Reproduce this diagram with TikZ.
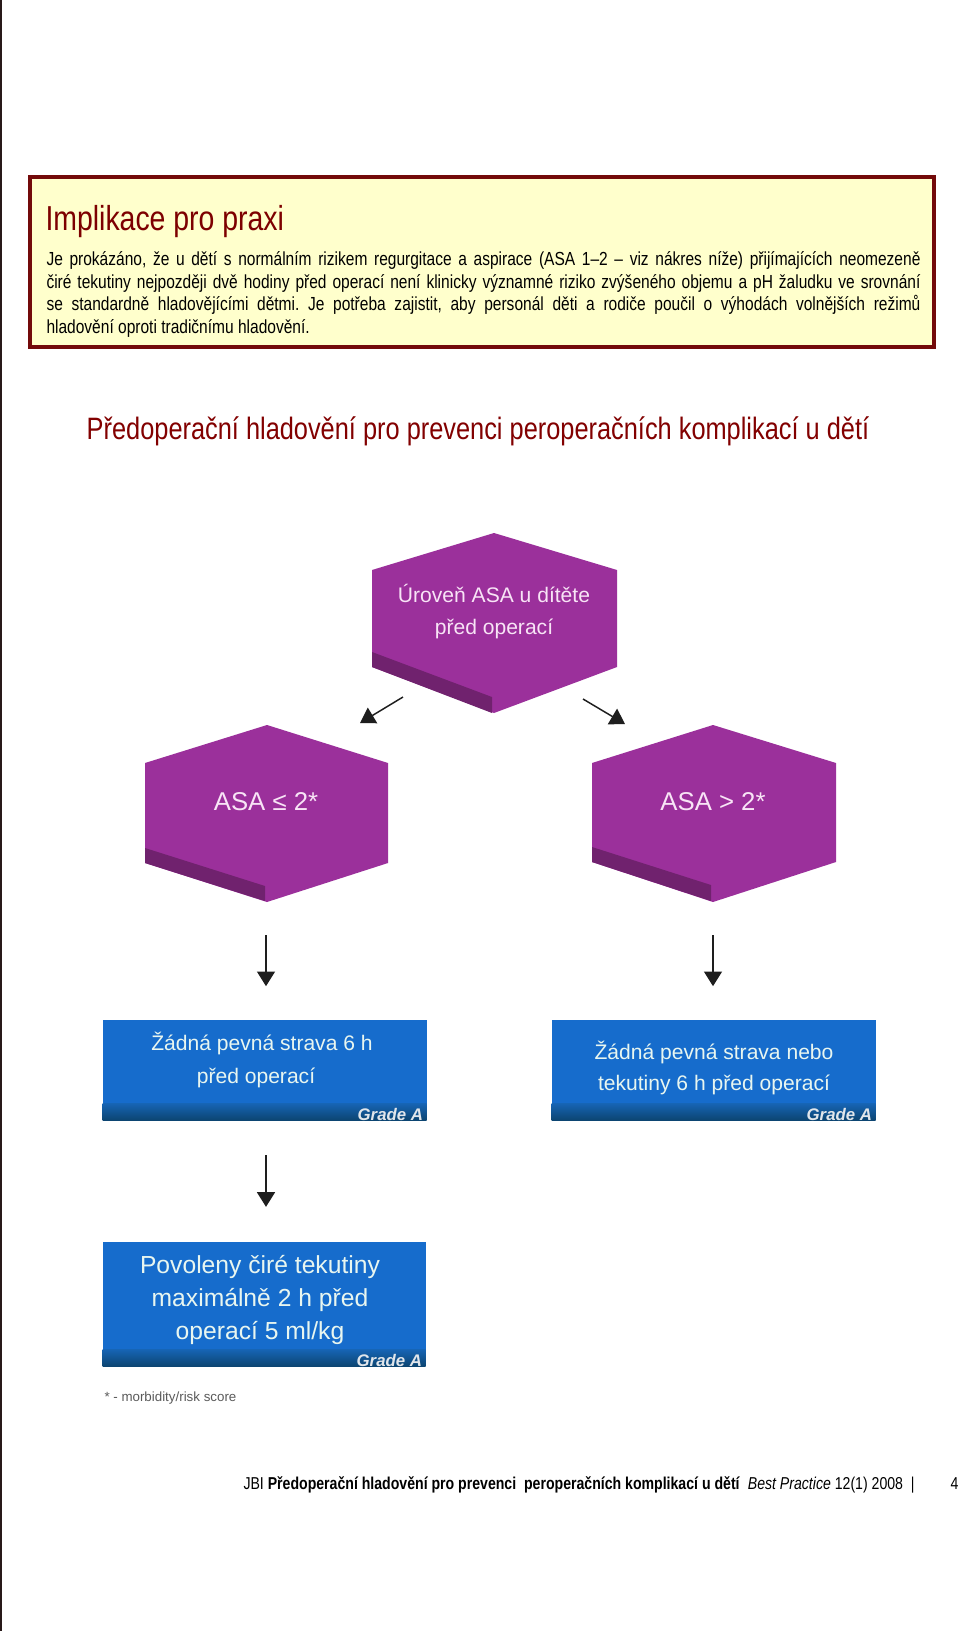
\documentclass[tikz,border=0pt]{standalone}
\usepackage{fontspec}
\setmainfont{Liberation Sans}
\newfontfamily\narrowfont[FakeStretch=0.82]{Liberation Sans}
\usetikzlibrary{arrows.meta}

\tikzset{every picture/.style={line width=0.75pt}}
\tikzset{
	hexface/.style={fill={rgb, 255:red, 155; green, 48; blue, 155}, draw opacity=0},
	hexband/.style={fill={rgb, 255:red, 112; green, 34; blue, 110}, draw opacity=0},
	hextext/.style={text={rgb, 255:red, 248; green, 228; blue, 246}, align=center, inner sep=0pt},
	bluebox/.style={fill={rgb, 255:red, 22; green, 108; blue, 204}, inner sep=0pt},
	bluetext/.style={text={rgb, 255:red, 232; green, 246; blue, 240}, align=center, inner sep=0pt},
	grade/.style={text={rgb, 255:red, 225; green, 230; blue, 235}, font=\fontsize{12.6}{13}\selectfont\bfseries\itshape, inner sep=0pt, anchor=base east},
	arr/.style={draw={rgb, 255:red, 30; green, 30; blue, 30}, line width=1.1pt, -{Triangle[width=13.5pt,length=11pt]}}
}

\begin{document}
\frenchspacing
\begin{tikzpicture}[x=0.75pt,y=0.75pt,yscale=-1,xscale=1]
	\useasboundingbox (0,0) rectangle (960,1631);
	\fill [white] (0,0) rectangle (960,1631);

	%Left page edge
	\draw [color={rgb, 255:red, 40; green, 25; blue, 25}, line width=2pt] (1,0) -- (1,1631);

	%Shape: Rectangle [implikace]
	\draw [color={rgb, 255:red, 115; green, 10; blue, 10}, line width=3pt, fill={rgb, 255:red, 255; green, 255; blue, 204}] (30,177) rectangle (934,347);

	% Text Node
	\node [anchor=base west, inner sep=0pt, text={rgb, 255:red, 125; green, 0; blue, 0}, font=\narrowfont\fontsize{26}{30}\selectfont] (impltitle) at (45,230) {Implikace pro praxi};
	% Text Node
	\node [anchor=north west, inner sep=0pt, text width=655.5pt, align=justify, font=\narrowfont\fontsize{14.2}{17}\selectfont] (impltext) at (46,251) {Je prokázáno, že u dětí s normálním rizikem regurgitace a aspirace (ASA 1–2 – viz nákres níže) přijímajících neomezeně\linebreak
	čiré tekutiny nejpozději dvě hodiny před operací není klinicky významné riziko zvýšeného objemu a pH žaludku ve srovnání\linebreak
	se standardně hladovějícími dětmi. Je potřeba zajistit, aby personál děti a rodiče poučil o výhodách volnějších režimů\linebreak
	hladovění oproti tradičnímu hladovění.};

	% Text Node
	\node [text={rgb, 255:red, 130; green, 0; blue, 0}, font=\narrowfont\fontsize{23.2}{27}\selectfont] (heading) at (478,431) {Předoperační hladovění pro prevenci peroperačních komplikací u dětí};

	%Shape: Hexagon [ASA level]
	\fill [hexface] (494,533) -- (617,570) -- (617,667) -- (494,713) -- (372,667) -- (372,570) -- cycle ;
	\fill [hexband] (372,652) -- (492,697) -- (492,713) -- (372,667) -- cycle ;
	%Shape: Hexagon [ASA <= 2]
	\fill [hexface] (267,725) -- (388,763) -- (388,863) -- (267,902) -- (145,863) -- (145,763) -- cycle ;
	\fill [hexband] (145,848) -- (265,886) -- (265,901) -- (145,863) -- cycle ;
	%Shape: Hexagon [ASA > 2]
	\fill [hexface] (713,725) -- (836,763) -- (836,862) -- (713,902) -- (592,862) -- (592,763) -- cycle ;
	\fill [hexband] (592,847) -- (711,885) -- (711,901) -- (592,862) -- cycle ;

	% Text Node
	\node [hextext, font=\fontsize{15.8}{24}\selectfont] (asalevel) at (494,612) {Úroveň ASA u dítěte\\před operací};
	% Text Node
	\node [hextext, font=\fontsize{19.3}{20}\selectfont] (asalow) at (266,802) {ASA ≤ 2*};
	% Text Node
	\node [hextext, font=\fontsize{19.3}{20}\selectfont] (asahigh) at (713,802) {ASA > 2*};

	%Blue boxes
	\node [bluebox, minimum width=243pt, minimum height=75pt] (solidfood) at (265,1070) {};
	\shade [top color={rgb, 255:red, 22; green, 100; blue, 180}, bottom color={rgb, 255:red, 12; green, 68; blue, 112}] (solidfood.south west) rectangle ++(324,-17);
	\node [bluebox, minimum width=243pt, minimum height=75pt] (solidliquid) at (714,1070) {};
	\shade [top color={rgb, 255:red, 22; green, 100; blue, 180}, bottom color={rgb, 255:red, 12; green, 68; blue, 112}] (solidliquid.south west) rectangle ++(324,-17);
	\node [bluebox, minimum width=242.25pt, minimum height=93pt] (clearfluids) at (264.5,1304) {};
	\shade [top color={rgb, 255:red, 22; green, 100; blue, 180}, bottom color={rgb, 255:red, 12; green, 68; blue, 112}] (clearfluids.south west) rectangle ++(323,-17);

	% Text Node
	\node [bluetext, font=\fontsize{15.8}{25}\selectfont] (solidtext) at (262,1060) {Žádná pevná strava 6 h\\před operací\hspace*{9pt}};
	% Text Node
	\node [bluetext, font=\fontsize{15.8}{23.4}\selectfont] (liquidtext) at (714,1068) {Žádná pevná strava nebo\\tekutiny 6 h před operací};
	% Text Node
	\node [bluetext, font=\fontsize{18.5}{25}\selectfont] (cleartext) at (260,1300) {Povoleny čiré tekutiny\\maximálně 2 h před\\operací 5 ml/kg};
	% Text Node
	\node [grade] (gradeone) at ([xshift=-3pt]solidfood.south east) {Grade A};
	\node [grade] (gradetwo) at ([xshift=-3pt]solidliquid.south east) {Grade A};
	\node [grade] (gradethree) at ([xshift=-3pt]clearfluids.south east) {Grade A};

	%Arrows
	\coordinate (leftfrom) at (403,697);
	\coordinate (leftto) at (360,723);
	\coordinate (rightfrom) at (583,699);
	\coordinate (rightto) at (625,724);
	\coordinate (lowbottom) at (266,902);
	\coordinate (highbottom) at (713,902);
	\draw [arr] (leftfrom) -- (leftto);
	\draw [arr] (rightfrom) -- (rightto);
	\draw [arr, shorten <=24.75pt, shorten >=25pt] (lowbottom) -- (solidfood.north -| lowbottom);
	\draw [arr, shorten <=24.75pt, shorten >=25pt] (highbottom) -- (solidliquid.north -| highbottom);
	\draw [arr, shorten <=26pt, shorten >=26pt] (solidfood.south -| lowbottom) -- (clearfluids.north -| lowbottom);

	% Text Node
	\node [anchor=base west, inner sep=0pt, text={rgb, 255:red, 90; green, 90; blue, 90}, font=\fontsize{10}{12}\selectfont] (footnote) at (104,1401) {* - morbidity/risk score};

	% Text Node
	\node [anchor=base west, inner sep=0pt, font=\narrowfont\fontsize{12.9}{15}\selectfont] (footer) at (243,1489) {JBI \textbf{Předoperační hladovění pro prevenci\ \ peroperačních komplikací u dětí}\ \ \textit{Best Practice} 12(1) 2008\ \ |};
	% Text Node
	\node [anchor=base west, inner sep=0pt, font=\narrowfont\fontsize{12.9}{15}\selectfont] (pagenum) at (950,1489) {4};

\end{tikzpicture}
\end{document}
